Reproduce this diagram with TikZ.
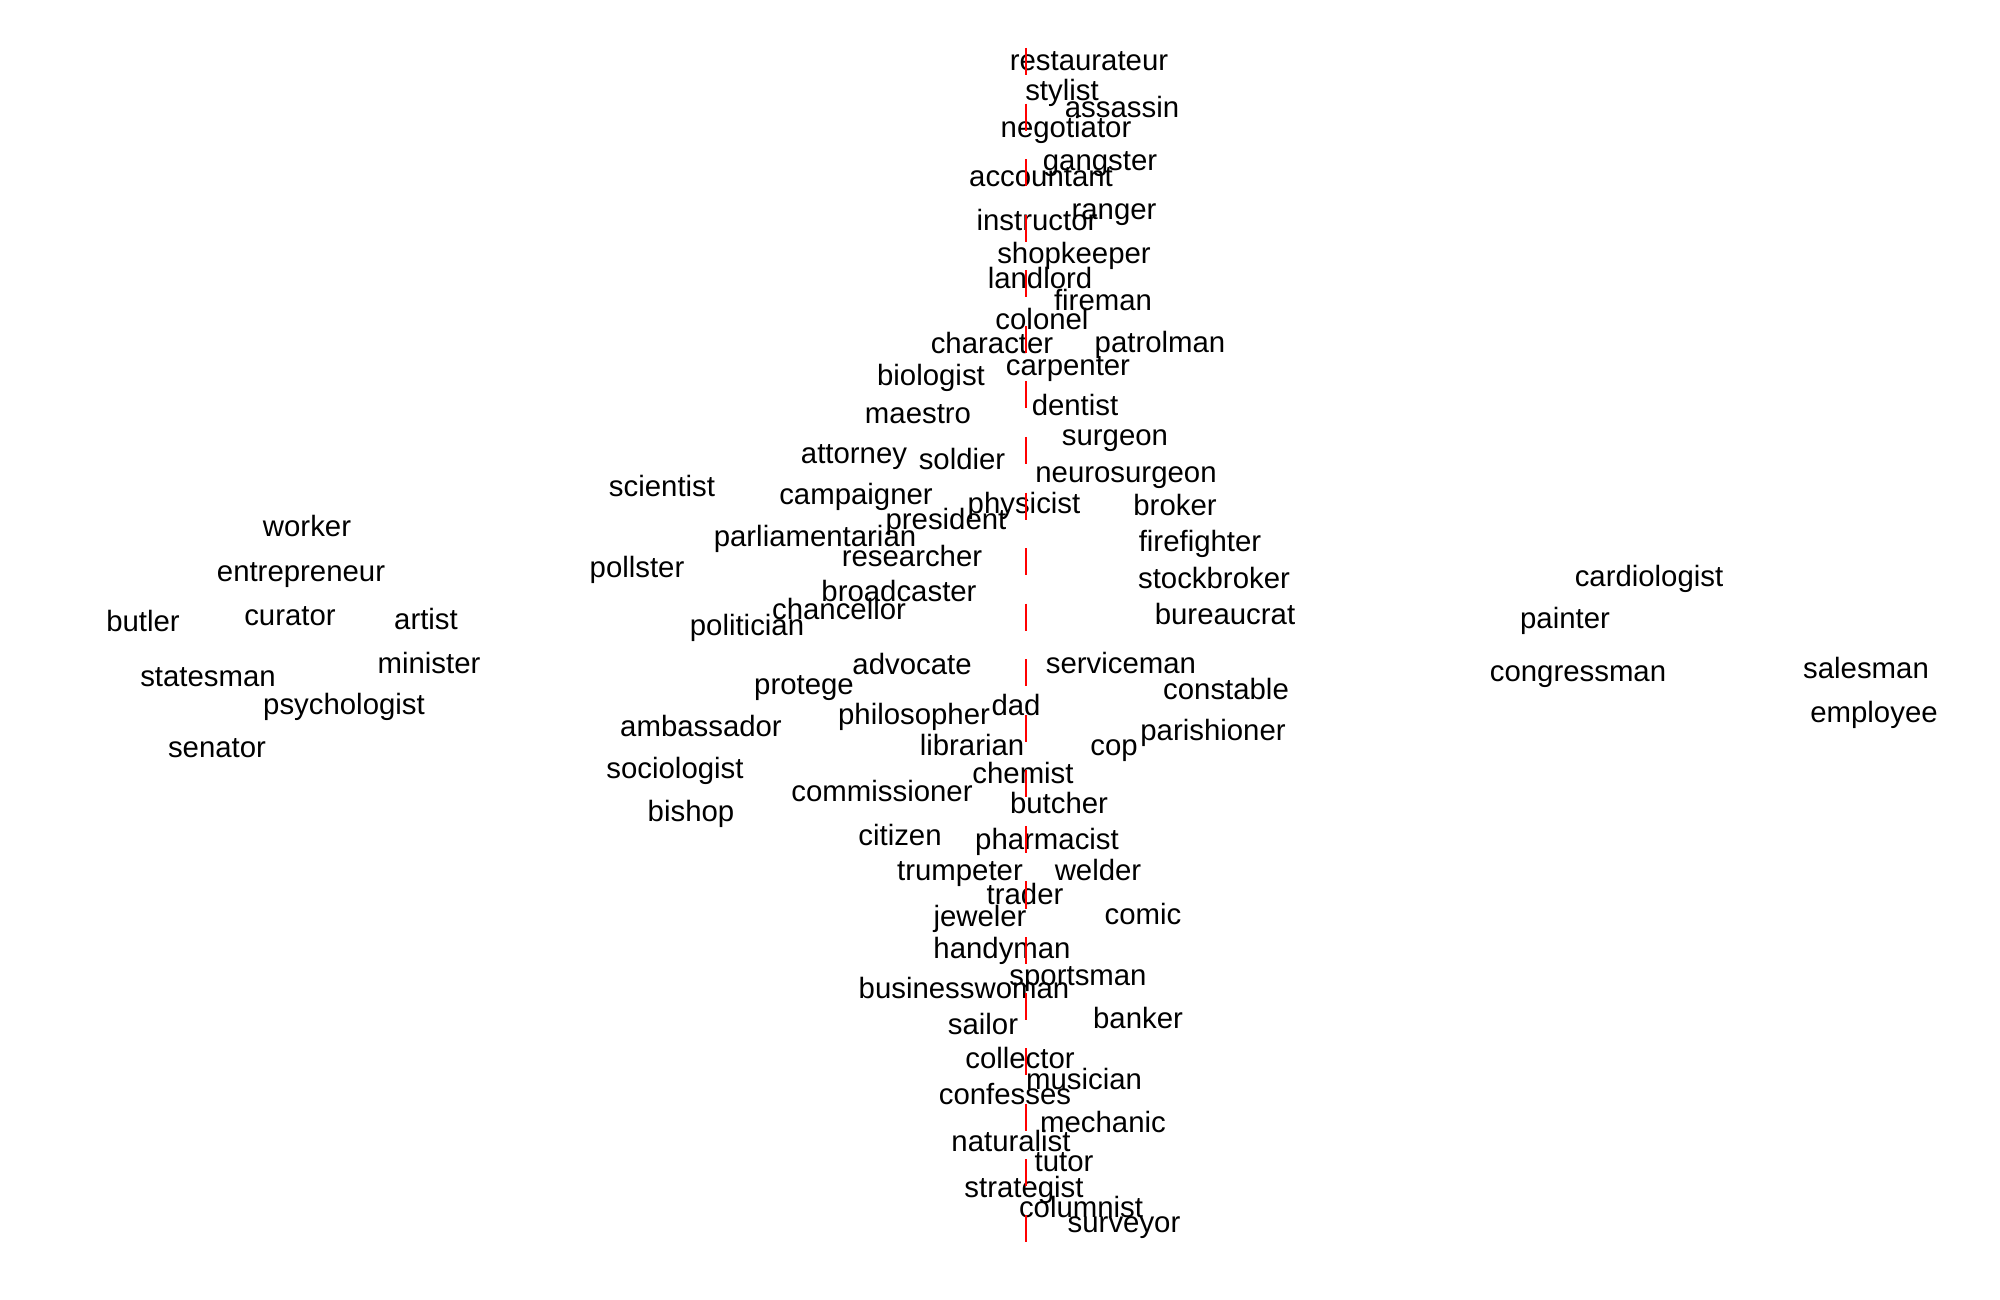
\documentclass[tikz,border=0pt]{standalone}
\usepackage{fontspec}
\setmainfont{Liberation Sans}

\tikzset{
	word/.style={font=\fontsize{8.35pt}{10pt}\selectfont, inner sep=0pt, anchor=base},
	cutline/.style={red, line width=0.75pt, dash pattern=on 7.7pt off 8.1pt}
}

\begin{document}
\begin{tikzpicture}[x=0.01cm, y=-0.01cm]
	\useasboundingbox (0,0) rectangle (2000,1300);
	
	% ----- LEFT: small group
	\foreach \x/\y/\w in {307/536/worker, 301/581/entrepreneur, 143/631/butler,
		290/625/curator, 426/629/artist, 429/673/minister, 208/686/statesman,
		344/714/psychologist, 217/757/senator}
	\node[word] (\w) at (\x,\y) {\w};
	
	% ----- MIDDLE: the long column
	\foreach \x/\y/\w in {1089/71/restaurateur, 1062/101/stylist, 1122/118/assassin,
		1066/138/negotiator, 1100/171/gangster, 1041/187/accountant, 1114/219/ranger,
		1037/231/instructor, 1074/263/shopkeeper, 1040/288/landlord, 1103/310/fireman,
		1042/329/colonel, 992/353/character, 1160/352/patrolman, 1068/375/carpenter,
		931/385/biologist, 918/423/maestro, 1075/415/dentist, 1115/445/surgeon,
		854/463/attorney, 962/469/soldier, 1126/482/neurosurgeon, 662/496/scientist,
		856/504/campaigner, 1024/513/physicist, 1175/515/broker, 946/529/president,
		815/546/parliamentarian, 1200/551/firefighter, 912/566/researcher,
		637/577/pollster, 1214/588/stockbroker, 899/601/broadcaster,
		839/619/chancellor, 1225/624/bureaucrat, 747/635/politician}
	\node[word] (\w) at (\x,\y) {\w};
	
	\foreach \x/\y/\w in {912/674/advocate, 1121/673/serviceman, 804/694/protege,
		1226/699/constable, 1016/715/dad, 914/724/philosopher, 701/736/ambassador,
		1213/740/parishioner, 972/755/librarian, 1114/755/cop, 675/778/sociologist,
		1023/783/chemist, 882/801/commissioner, 1059/813/butcher, 691/821/bishop,
		900/845/citizen, 1047/849/pharmacist, 960/880/trumpeter, 1098/880/welder,
		1025/904/trader, 980/926/jeweler, 1143/924/comic, 1002/958/handyman,
		1078/985/sportsman, 964/998/businesswoman, 983/1034/sailor, 1138/1028/banker,
		1020/1068/collector, 1084/1089/musician, 1005/1104/confesses,
		1103/1132/mechanic, 1011/1151/naturalist, 1064/1171/tutor,
		1024/1197/strategist, 1081/1217/columnist, 1124/1232/surveyor}
	\node[word] (\w) at (\x,\y) {\w};
	
	% ----- RIGHT: small group
	\foreach \x/\y/\w in {1649/586/cardiologist, 1565/628/painter,
		1578/681/congressman, 1866/678/salesman, 1874/722/employee}
	\node[word] (\w) at (\x,\y) {\w};
	
	% dividing line
	\coordinate (top) at (1026,48);
	\coordinate (bottom) at (1026,1243);
	\draw[cutline] (top) -- (bottom);
	
\end{tikzpicture}
\end{document}
